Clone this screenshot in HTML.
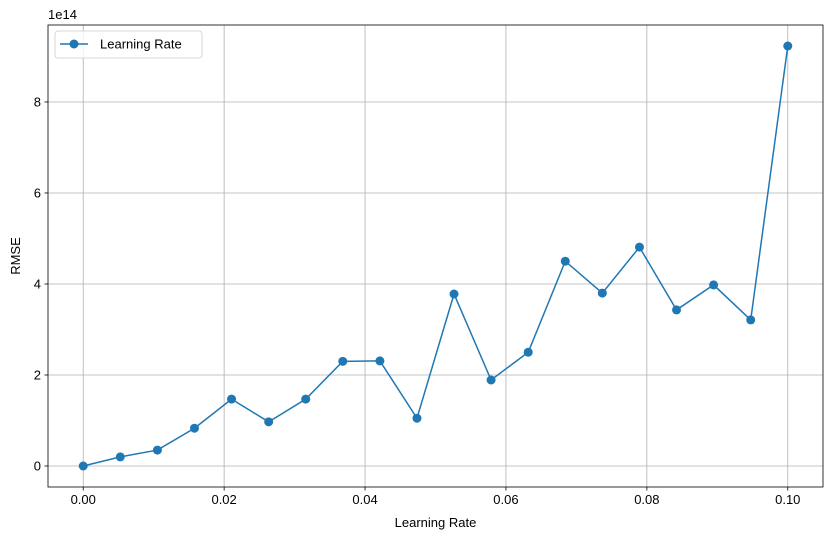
<!DOCTYPE html>
<html><head><meta charset="utf-8"><style>
body{margin:0;background:#fff;}
svg{display:block;font-family:"Liberation Sans","DejaVu Sans",sans-serif;}
</style></head><body>
<svg id="chart" width="833" height="540" viewBox="0 0 833 540"></svg>
<script>
const xValues=[0,0.00526,0.01053,0.01579,0.02105,0.02632,0.03158,0.03684,0.04211,0.04737,0.05263,0.05789,0.06316,0.06842,0.07368,0.07895,0.08421,0.08947,0.09474,0.1];
const rmseValues=[0,0.2,0.35,0.83,1.47,0.97,1.47,2.3,2.31,1.05,3.78,1.89,2.5,4.5,3.8,4.81,3.43,3.98,3.21,9.23];
const xTicks=[0,0.02,0.04,0.06,0.08,0.10];
const xTickLabels=["0.00","0.02","0.04","0.06","0.08","0.10"];
const yTicks=[0,2,4,6,8];
const yTickLabels=["0","2","4","6","8"];
const L=48,R=823,T=25,B=487;
const xMin=-0.005,xMax=0.105,yMin=-0.4615,yMax=9.6915;
const sx=v=>L+(v-xMin)/(xMax-xMin)*(R-L);
const sy=v=>B-(v-yMin)/(yMax-yMin)*(B-T);
const svg=document.getElementById('chart');
const NS='http://www.w3.org/2000/svg';
function mk(tag,attrs,parent){const e=document.createElementNS(NS,tag);for(const k in attrs)e.setAttribute(k,attrs[k]);(parent||svg).appendChild(e);return e;}
const grid=mk('g',{});


xTicks.forEach((t,i)=>{
  const x=sx(t);
  mk('line',{x1:x,x2:x,y1:T,y2:B,stroke:'#b0b0b0','stroke-width':0.8},grid);
  const tk=mk('line',{x1:x,x2:x,y1:B,y2:B+3.5,stroke:'#000','stroke-width':0.8});
  
  
  const tx=mk('text',{x:x,y:B+17,'text-anchor':'middle','font-size':13,fill:'#000'});
  tx.textContent=xTickLabels[i];
  
  
});
yTicks.forEach((t,i)=>{
  const y=sy(t);
  mk('line',{x1:L,x2:R,y1:y,y2:y,stroke:'#b0b0b0','stroke-width':0.8},grid);
  const tk=mk('line',{x1:L-3.5,x2:L,y1:y,y2:y,stroke:'#000','stroke-width':0.8});
  
  
  const tx=mk('text',{x:L-7,y:y+4.5,'text-anchor':'end','font-size':13,fill:'#000'});
  tx.textContent=yTickLabels[i];
  
  
});
const frame=mk('rect',{x:L,y:T,width:R-L,height:B-T,fill:'none',stroke:'#000','stroke-width':0.8});


const pts=xValues.map((x,i)=>sx(x)+','+sy(rmseValues[i])).join(' ');
const line=mk('polyline',{points:pts,fill:'none',stroke:'#1f77b4','stroke-width':1.5});


xValues.forEach((x,i)=>{
  const c=mk('circle',{cx:sx(x),cy:sy(rmseValues[i]),r:4.5,fill:'#1f77b4'});
  
  
});
const off=mk('text',{x:L,y:T-6,'font-size':13,fill:'#000'});
off.textContent='1e14';


const xl=mk('text',{x:(L+R)/2,y:527,'text-anchor':'middle','font-size':13,fill:'#000'});
xl.textContent='Learning Rate';


const yl=mk('text',{x:20,y:(T+B)/2,'text-anchor':'middle','font-size':13,fill:'#000',transform:'rotate(-90 20 '+((T+B)/2)+')'});
yl.textContent='RMSE';


const lg=mk('g',{});


mk('rect',{x:55,y:31,width:147,height:27,rx:3,fill:'#fff','fill-opacity':0.8,stroke:'#ccc','stroke-width':0.8},lg);
mk('line',{x1:60,x2:88,y1:44,y2:44,stroke:'#1f77b4','stroke-width':1.5},lg);
mk('circle',{cx:74,cy:44,r:4.5,fill:'#1f77b4'},lg);
const lt=mk('text',{x:100,y:48.5,'font-size':13,fill:'#000'},lg);
lt.textContent='Learning Rate';


</script>
</body></html>
